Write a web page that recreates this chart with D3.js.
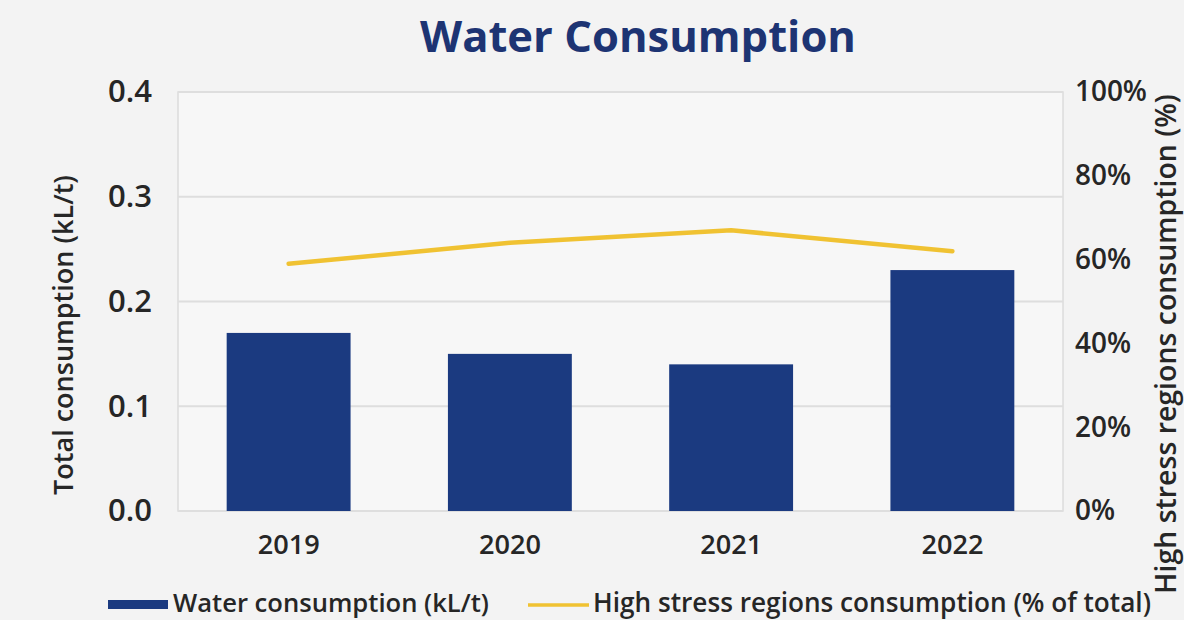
<!DOCTYPE html>
<html>
<head>
<meta charset="utf-8">
<script src="https://cdn.jsdelivr.net/npm/d3@7"></script>
<style>
  html, body { margin: 0; padding: 0; background: #f3f3f3; }
  svg { display: block; }
  text { font-family: "Open Sans", "DejaVu Sans", sans-serif; }
</style>
</head>
<body>
<svg id="chart" width="1184" height="620"></svg>
<script>
// ---- data ----
const categories = ["2019", "2020", "2021", "2022"];
const waterConsumption = [0.17, 0.15, 0.14, 0.23];          // kL/t
const highStressShare = [0.59, 0.64, 0.67, 0.62];           // share of total
const leftTicks = [0.0, 0.1, 0.2, 0.3, 0.4];
const rightTicks = [0, 0.2, 0.4, 0.6, 0.8, 1.0];
const titleText = "Water Consumption";
const leftAxisTitle = "Total consumption (kL/t)";
const rightAxisTitle = "High stress regions consumption (%)";
const legendLabels = ["Water consumption (kL/t)", "High stress regions consumption (% of total)"];

// ---- layout ----
const W = 1184, H = 620;
const plot = { left: 178, right: 1063, top: 92, bottom: 511 };
const navy = "#1b3a80";
const gold = "#f0c232";
const textCol = "#262626";

const svg = d3.select("#chart");

const x = d3.scaleBand().domain(categories).range([plot.left, plot.right]).paddingInner(0.44).paddingOuter(0.22);
const yL = d3.scaleLinear().domain([0, 0.4]).range([plot.bottom, plot.top]);
const yR = d3.scaleLinear().domain([0, 1]).range([plot.bottom, plot.top]);

// plot background
svg.append("rect").attr("x", plot.left).attr("y", plot.top)
  .attr("width", plot.right - plot.left).attr("height", plot.bottom - plot.top)
  .attr("fill", "#f7f7f7").attr("stroke", "#dcdcdc").attr("stroke-width", 1.5);

// gridlines
svg.append("g").selectAll("line").data(leftTicks).join("line")
  .attr("x1", plot.left).attr("x2", plot.right)
  .attr("y1", d => yL(d)).attr("y2", d => yL(d))
  .attr("stroke", "#dedede").attr("stroke-width", 2);

// bars
svg.append("g").selectAll("rect").data(categories).join("rect")
  .attr("x", d => x(d))
  .attr("y", (d, i) => yL(waterConsumption[i]))
  .attr("width", x.bandwidth())
  .attr("height", (d, i) => yL(0) - yL(waterConsumption[i]))
  .attr("fill", navy);

// line
const line = d3.line()
  .x((d, i) => x(categories[i]) + x.bandwidth() / 2)
  .y(d => yR(d));
svg.append("path").datum(highStressShare)
  .attr("d", line).attr("fill", "none")
  .attr("stroke", gold).attr("stroke-width", 4.5).attr("stroke-linejoin", "round").attr("stroke-linecap", "round");

// fit helper: scale font-size so the text has a target width
function fitSize(sel, target) {
  const n = sel.node();
  const w = n.getComputedTextLength();
  const fs = parseFloat(sel.style("font-size"));
  return fs * target / w;
}

// left axis
const leftAxis = d3.axisLeft(yL).tickValues(leftTicks).tickFormat(d3.format(".1f")).tickSize(0).tickPadding(0);
const gL = svg.append("g").attr("transform", `translate(152,0)`).call(leftAxis);
gL.select(".domain").remove();
gL.selectAll("text").attr("fill", textCol).style("font-size", "24px").style("font-weight", 600);
{
  const s = fitSize(gL.selectAll("text").filter(d => d === 0.4), 44);
  gL.selectAll("text").style("font-size", s.toFixed(2) + "px");
}

// right axis
const rightAxis = d3.axisRight(yR).tickValues(rightTicks).tickFormat(d3.format(".0%")).tickSize(0).tickPadding(0);
const gR = svg.append("g").attr("transform", `translate(1075,0)`).call(rightAxis);
gR.select(".domain").remove();
gR.selectAll("text").attr("fill", textCol).style("font-size", "24px").style("font-weight", 600);
{
  const s = fitSize(gR.selectAll("text").filter(d => d === 1), 72);
  gR.selectAll("text").style("font-size", s.toFixed(2) + "px");
}

// bottom axis
const bottomAxis = d3.axisBottom(x).tickSize(0).tickPadding(0);
const gB = svg.append("g").attr("transform", `translate(0,544)`).call(bottomAxis);
gB.select(".domain").remove();
gB.selectAll("text").attr("fill", textCol).style("font-size", "24px").style("font-weight", 600).attr("dy", "0.36em");
{
  const s = fitSize(gB.selectAll("text").filter(d => d === "2019"), 62);
  gB.selectAll("text").style("font-size", s.toFixed(2) + "px");
}

// title
const title = svg.append("text").attr("x", 638).attr("y", 52).attr("text-anchor", "middle")
  .attr("fill", "#1d3473").style("font-size", "34px").style("font-weight", 700)
  .text(titleText);
title.style("font-size", fitSize(title, 436).toFixed(2) + "px");

// axis titles
const lt = svg.append("text").attr("transform", "translate(73,335) rotate(-90)").attr("text-anchor", "middle")
  .attr("fill", textCol).style("font-size", "20px").style("font-weight", 600)
  .text(leftAxisTitle);
lt.style("font-size", fitSize(lt, 320).toFixed(2) + "px");
const rt = svg.append("text").attr("transform", "translate(1176,344) rotate(-90)").attr("text-anchor", "middle")
  .attr("fill", textCol).style("font-size", "24px").style("font-weight", 600)
  .text(rightAxisTitle);
rt.style("font-size", fitSize(rt, 500).toFixed(2) + "px");

// legend
const lg = svg.append("g");
lg.append("rect").attr("x", 108).attr("y", 600).attr("width", 60).attr("height", 9).attr("fill", navy);
const l1 = lg.append("text").attr("x", 173).attr("y", 612).attr("fill", textCol)
  .style("font-size", "19px").style("font-weight", 600).text(legendLabels[0]);
l1.style("font-size", fitSize(l1, 316).toFixed(2) + "px");
lg.append("line").attr("x1", 528).attr("x2", 589).attr("y1", 605).attr("y2", 605)
  .attr("stroke", gold).attr("stroke-width", 3.5);
const l2 = lg.append("text").attr("x", 593).attr("y", 612).attr("fill", textCol)
  .style("font-size", "19px").style("font-weight", 600).text(legendLabels[1]);
l2.style("font-size", fitSize(l2, 558).toFixed(2) + "px");
</script>
</body>
</html>
